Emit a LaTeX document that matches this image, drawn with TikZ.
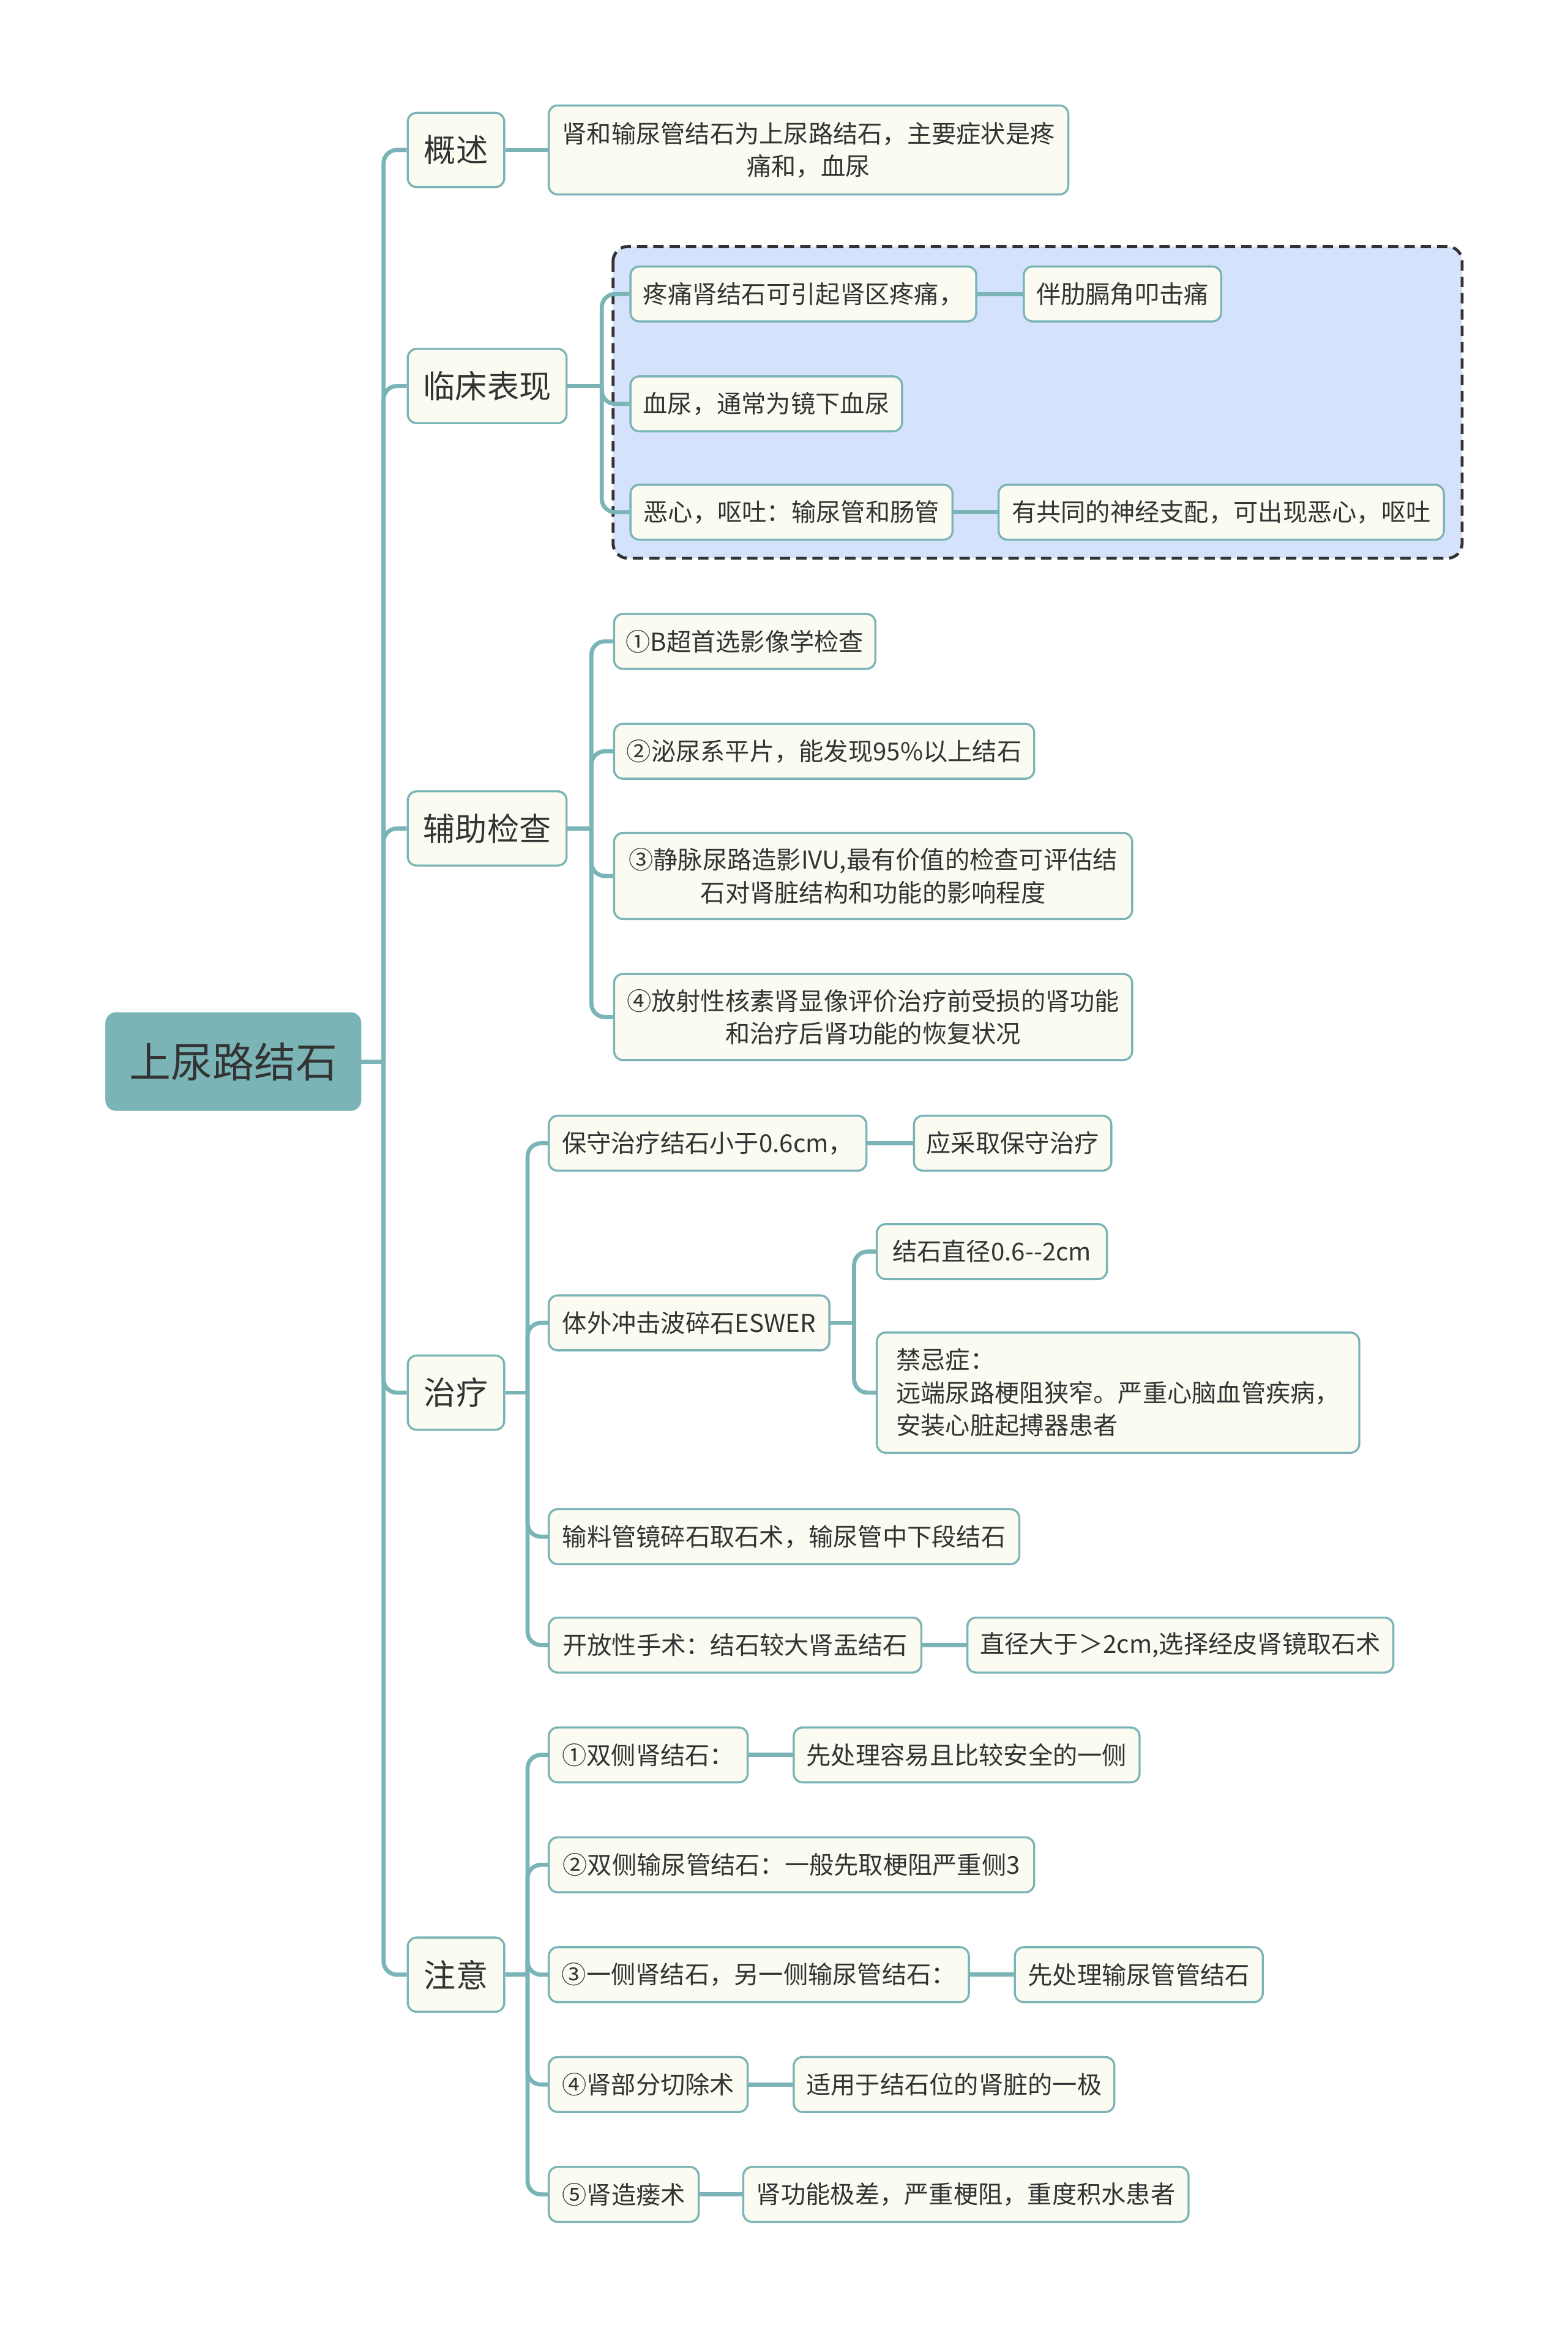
\documentclass[tikz,border=0pt]{standalone}
\usepackage{fontspec}
\setmainfont{Noto Sans CJK SC}
\usetikzlibrary{calc,backgrounds}
\definecolor{tealline}{HTML}{7BB4B7}
\definecolor{ivoryfill}{HTML}{FCFBF2}
\definecolor{txtcol}{HTML}{333333}
\definecolor{bluefill}{HTML}{D4E3FB}
\begin{document}
\begin{tikzpicture}[x=1pt,y=-1pt,
  rootbox/.style={rectangle, rounded corners=7pt, fill=tealline, draw=tealline, text=txtcol,
    font=\fontsize{28}{32}\selectfont, minimum height=66pt, inner xsep=6pt, anchor=west},
  lvone/.style={rectangle, rounded corners=6pt, fill=ivoryfill, draw=tealline, line width=1.4pt,
    text=txtcol, font=\fontsize{21.5}{26}\selectfont, minimum height=50pt, inner xsep=5pt, anchor=west},
  leaf/.style={rectangle, rounded corners=6pt, fill=ivoryfill, draw=tealline, line width=1.4pt,
    text=txtcol, font=\fontsize{16.6}{22}\selectfont, minimum height=37pt, inner xsep=5pt,
    inner ysep=3pt, anchor=west, align=center},
  mw/.style={minimum width=#1},
  mh/.style={minimum height=#1},
  conn/.style={draw=tealline, line width=2.8pt},
  elbow/.style={conn, rounded corners=9pt},
  groupbox/.style={draw=txtcol, fill=bluefill, line width=2pt, dash pattern=on 7pt off 4pt, rounded corners=10pt}
]
\useasboundingbox (0,0) rectangle (1056,1568);

% root and level one
\node[rootbox, mw=172] (root) at (71,715) {上尿路结石};
\node[lvone, mw=65] (a) at (274,101) {概述};
\node[lvone, mw=107] (b) at (274,260) {临床表现};
\node[lvone, mw=107] (c) at (274,558) {辅助检查};
\node[lvone, mw=65] (d) at (274,938) {治疗};
\node[lvone, mw=65] (e) at (274,1330) {注意};

% 概述
\node[leaf, mw=350, mh=60] (a1) at (369,101) {肾和输尿管结石为上尿路结石，主要症状是疼\\痛和，血尿};

% 临床表现
\node[leaf, mw=233] (b1) at (424,198) {疼痛肾结石可引起肾区疼痛，};
\node[leaf, mw=133] (b1a) at (689,198) {伴肋膈角叩击痛};
\node[leaf, mw=183] (b2) at (424,272) {血尿，通常为镜下血尿};
\node[leaf, mw=217] (b3) at (424,345) {恶心，呕吐：输尿管和肠管};
\node[leaf, mw=300] (b3a) at (672,345) {有共同的神经支配，可出现恶心，呕吐};

% 辅助检查
\node[leaf, mw=176] (c1) at (413,432) {①B超首选影像学检查};
\node[leaf, mw=283] (c2) at (413,506) {②泌尿系平片，能发现95\%以上结石};
\node[leaf, mw=349, mh=58] (c3) at (413,590) {③静脉尿路造影IVU,最有价值的检查可评估结\\石对肾脏结构和功能的影响程度};
\node[leaf, mw=349, mh=58] (c4) at (413,685) {④放射性核素肾显像评价治疗前受损的肾功能\\和治疗后肾功能的恢复状况};

% 治疗
\node[leaf, mw=214] (d1) at (369,770) {保守治疗结石小于0.6cm，};
\node[leaf, mw=133] (d1a) at (615,770) {应采取保守治疗};
\node[leaf, mw=189] (d2) at (369,891) {体外冲击波碎石ESWER};
\node[leaf, mw=155] (d2a) at (590,843) {结石直径0.6-{}-2cm};
\node[leaf, mw=325, mh=81, align=left, inner xsep=9pt] (d2b) at (590,938) {禁忌症：\\远端尿路梗阻狭窄。严重心脑血管疾病，\\安装心脏起搏器患者\hspace*{140pt}};
\node[leaf, mw=317] (d3) at (369,1035) {输料管镜碎石取石术，输尿管中下段结石};
\node[leaf, mw=251] (d4) at (369,1108) {开放性手术：结石较大肾盂结石};
\node[leaf, mw=287] (d4a) at (651,1108) {直径大于＞2cm,选择经皮肾镜取石术};

% 注意
\node[leaf, mw=134] (e1) at (369,1182) {①双侧肾结石：};
\node[leaf, mw=233] (e1a) at (534,1182) {先处理容易且比较安全的一侧};
\node[leaf, mw=327] (e2) at (369,1256) {②双侧输尿管结石：一般先取梗阻严重侧3};
\node[leaf, mw=283] (e3) at (369,1330) {③一侧肾结石，另一侧输尿管结石：};
\node[leaf, mw=167] (e3a) at (683,1330) {先处理输尿管管结石};
\node[leaf, mw=134] (e4) at (369,1404) {④肾部分切除术};
\node[leaf, mw=216] (e4a) at (534,1404) {适用于结石位的肾脏的一极};
\node[leaf, mw=101] (e5) at (369,1478) {⑤肾造瘘术};
\node[leaf, mw=300] (e5a) at (500,1478) {肾功能极差，严重梗阻，重度积水患者};

\begin{scope}[on background layer]
  \draw[groupbox] (413,166) rectangle (985,376);

  \coordinate (t) at ($(root.east)+(15,0)$);
  \draw[conn] (root.east) -- (t);
  \foreach \n in {a,b,c,d,e} \draw[elbow] (t) |- (\n.west);

  \draw[conn] (a.east) -- (a1.west);

  \coordinate (tb) at ($(b.east)+(23,0)$);
  \draw[conn] (b.east) -- (tb);
  \foreach \n in {b1,b2,b3} \draw[elbow] (tb) |- (\n.west);
  \draw[conn] (b1.east) -- (b1a.west);
  \draw[conn] (b3.east) -- (b3a.west);

  \coordinate (tc) at ($(c.east)+(16,0)$);
  \draw[conn] (c.east) -- (tc);
  \foreach \n in {c1,c2,c3,c4} \draw[elbow] (tc) |- (\n.west);

  \coordinate (td) at ($(d.east)+(15,0)$);
  \draw[conn] (d.east) -- (td);
  \foreach \n in {d1,d2,d3,d4} \draw[elbow] (td) |- (\n.west);
  \draw[conn] (d1.east) -- (d1a.west);
  \draw[conn] (d4.east) -- (d4a.west);
  \coordinate (td2) at ($(d2.east)+(16,0)$);
  \draw[conn] (d2.east) -- (td2);
  \foreach \n in {d2a,d2b} \draw[elbow] (td2) |- (\n.west);

  \coordinate (te) at ($(e.east)+(15,0)$);
  \draw[conn] (e.east) -- (te);
  \foreach \n in {e1,e2,e3,e4,e5} \draw[elbow] (te) |- (\n.west);
  \draw[conn] (e1.east) -- (e1a.west);
  \draw[conn] (e3.east) -- (e3a.west);
  \draw[conn] (e4.east) -- (e4a.west);
  \draw[conn] (e5.east) -- (e5a.west);
\end{scope}
\end{tikzpicture}
\end{document}
